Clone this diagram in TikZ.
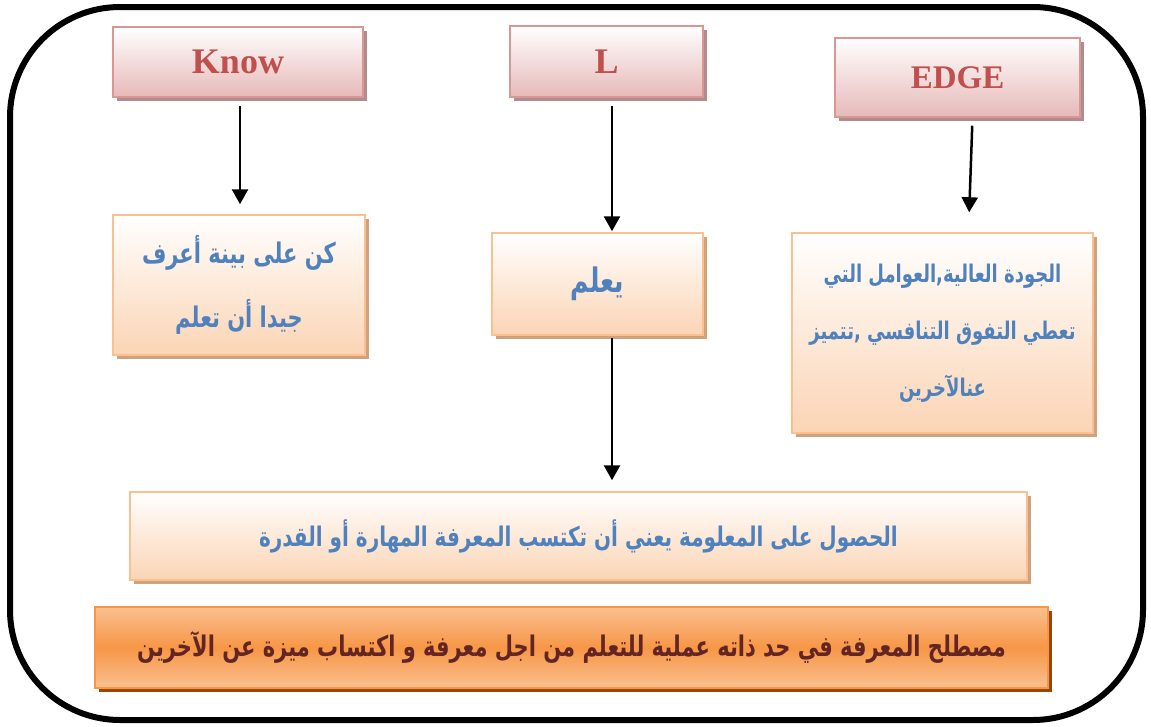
\documentclass[tikz,border=0pt]{standalone}
\usepackage{fontspec}
\usepackage{graphicx}
\usetikzlibrary{arrows.meta,shadows}
\TeXXeTstate=1
\setmainfont{Liberation Serif}
\newfontfamily\arabicfont[Script=Arabic]{DejaVu Sans}
% Arabic line, right to left, set a little taller than the font's own shape
\newcommand{\artext}[1]{\scalebox{1}[1.35]{\arabicfont\beginR #1\endR}}
\definecolor{hdrline}{HTML}{D99694}
\definecolor{hdrbot}{HTML}{E6B9B8}
\definecolor{hdrshadow}{HTML}{B08D8C}
\definecolor{hdrtext}{HTML}{C0504D}
\definecolor{orline}{HTML}{FAC090}
\definecolor{orbot}{HTML}{FBD4B4}
\definecolor{orshadow}{HTML}{CFA27E}
\definecolor{bluetext}{HTML}{4F81BD}
\definecolor{darkline}{HTML}{F79646}
\definecolor{darkmid}{HTML}{F79646}
\definecolor{darkedge}{HTML}{FAC090}
\definecolor{darkshadow}{HTML}{984806}
\definecolor{darktext}{HTML}{632523}
\tikzset{
  x=1pt, y=-1pt,
  hdrbox/.style={rectangle, draw=hdrline, line width=1.5pt, top color=white,
    bottom color=hdrbot, text=hdrtext, inner sep=0pt,
    font=\fontsize{36}{40}\selectfont\bfseries,
    drop shadow={shadow xshift=4pt, shadow yshift=-4pt, fill=hdrshadow, opacity=1}},
  orbox/.style={rectangle, draw=orline, line width=1.5pt, top color=white,
    bottom color=orbot, text=bluetext, inner sep=0pt, align=center,
    drop shadow={shadow xshift=4pt, shadow yshift=-4pt, fill=orshadow, opacity=1}},
  sumbox/.style={rectangle, draw=darkline, line width=1.5pt, top color=darkedge,
    bottom color=darkedge, middle color=darkmid, text=darktext, inner sep=0pt,
    align=center, font=\fontsize{21}{24}\selectfont\bfseries,
    drop shadow={shadow xshift=4pt, shadow yshift=-4pt, fill=darkshadow, opacity=1}},
  arr/.style={line width=2.5pt, -{Triangle[length=15pt,width=16pt]}},
}
\begin{document}
\begin{tikzpicture}
\useasboundingbox (0,0) rectangle (1151,726);
% outer frame
\draw[line width=6pt, rounded corners=110pt] (10,7) rectangle (1143,720);

% header boxes
\node[hdrbox, minimum width=250pt, minimum height=70pt] (know) at (238,62) {Know};
\node[hdrbox, minimum width=193pt, minimum height=71pt] (ell) at (606.5,61.5) {L};
\node[hdrbox, minimum width=245pt, minimum height=79pt,
  font=\fontsize{33}{36}\selectfont\bfseries] (edge) at (957.5,77.5) {EDGE};

% meaning boxes
\node[orbox, minimum width=252pt, minimum height=140pt,
  font=\fontsize{21}{64}\selectfont\bfseries] (d1) at (239,285)
  {\artext{كن على بينة أعرف}\\\artext{جيدا أن تعلم}};
\node[orbox, minimum width=211pt, minimum height=102pt,
  font=\fontsize{25}{28}\selectfont\bfseries] (d2) at (597.5,284) {\artext{يعلم}};
\node[orbox, minimum width=301pt, minimum height=200pt,
  font=\fontsize{18}{57}\selectfont\bfseries] (d3) at (942.5,333)
  {\artext{الجودة العالية,العوامل التي}\\\artext{تعطي التفوق التنافسي ,تتميز}\\\artext{عنالآخرين}};
\node[orbox, minimum width=897pt, minimum height=88pt,
  font=\fontsize{20}{24}\selectfont\bfseries] (d4) at (578.5,536)
  {\artext{الحصول على المعلومة يعني أن تكتسب المعرفة المهارة أو القدرة}};
\node[sumbox, minimum width=953pt, minimum height=81pt] (d5) at (571.5,647.5)
  {\artext{مصطلح المعرفة في حد ذاته عملية للتعلم من اجل معرفة و اكتساب ميزة عن الآخرين}};

% connectors
\draw[arr, shorten <=8pt, shorten >=10pt] ([xshift=2pt]know.south) -- ([xshift=2pt]know.south |- d1.north);
\draw[arr, shorten <=8pt, shorten >=1pt] ([xshift=5.5pt]ell.south) -- ([xshift=5.5pt]ell.south |- d2.north);
\draw[arr, shorten <=8pt, shorten >=20pt] ([xshift=15pt]edge.south) -- ([xshift=11pt]edge.south |- d3.north);
\draw[arr, shorten <=2pt, shorten >=11pt] ([xshift=14.5pt]d2.south) -- ([xshift=14.5pt]d2.south |- d4.north);
\end{tikzpicture}
\end{document}
